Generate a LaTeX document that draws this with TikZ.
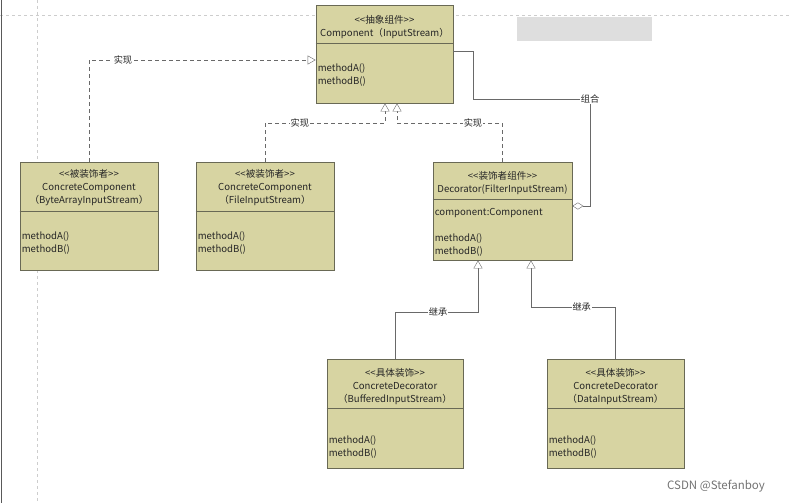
\documentclass[tikz,border=0pt]{standalone}
\usepackage{fontspec}
\setmainfont{Noto Sans CJK SC}[Ligatures=TeXOff]
\usetikzlibrary{arrows.meta,positioning,calc}

\definecolor{clsfill}{RGB}{215,212,162}
\definecolor{clsline}{RGB}{105,105,85}
\definecolor{linegray}{RGB}{105,105,105}
\definecolor{gridgray}{RGB}{205,205,205}

\tikzset{
  cls/.style={draw=clsline, fill=clsfill, line width=0.8pt, inner sep=0pt},
  txt/.style={font=\fontsize{9.6}{13}\selectfont, align=center, inner sep=0pt, text=black!85, yshift=-1.5pt},
  mtd/.style={txt, align=left, anchor=west},
  lbl/.style={font=\fontsize{9.2}{10}\selectfont, fill=white, inner sep=1pt, text=black!85},
  realize/.style={draw=linegray, dash pattern=on 4pt off 3pt,
    -{Triangle[open,length=8pt,width=9pt,fill=white]}},
  inherit/.style={draw=linegray, -{Triangle[open,length=8pt,width=9pt,fill=white]}},
  compose/.style={draw=linegray, -{Diamond[open,length=11pt,width=7pt,fill=white]}},
}

\begin{document}
\begin{tikzpicture}[x=1pt,y=-1pt]
    \useasboundingbox (0,0) rectangle (792,503);

    % page guides
    \draw[gridgray, dashed] (0,15) -- (792,15);
    \draw[gridgray, dashed] (37,0) -- (37,503);
    \draw[black!65, line width=1pt] (1,0) -- (1,503);
    \fill[black!13] (517,17) rectangle (652,41);

    % classes
    \node[cls, minimum width=137pt, minimum height=98pt]  (comp)    at (384.5,54)  {};
    \node[cls, minimum width=138pt, minimum height=108pt] (ccomp_1) at (89,216)    {};
    \node[cls, minimum width=138pt, minimum height=108pt] (ccomp_2) at (265,216)   {};
    \node[cls, minimum width=139pt, minimum height=98pt]  (deco)    at (502.5,211) {};
    \node[cls, minimum width=136pt, minimum height=109pt] (cdeco_1) at (395,413.5) {};
    \node[cls, minimum width=137pt, minimum height=109pt] (cdeco_2) at (615.5,413.5) {};

    \draw[clsline] (comp.west |- 0,43) -- (comp.east |- 0,43);
    \draw[clsline] (ccomp_1.west |- 0,211) -- (ccomp_1.east |- 0,211);
    \draw[clsline] (ccomp_2.west |- 0,211) -- (ccomp_2.east |- 0,211);
    \draw[clsline] (deco.west |- 0,199) -- (deco.east |- 0,199);
    \draw[clsline] (cdeco_1.west |- 0,408) -- (cdeco_1.east |- 0,408);
    \draw[clsline] (cdeco_2.west |- 0,408) -- (cdeco_2.east |- 0,408);

    \node[txt] (comp_h) at (comp |- 0,25.5) {<<抽象组件>>\\Component（InputStream）};
    \node[mtd] (comp_m) at ([xshift=2pt]comp.west |- 0,73.5) {methodA()\\methodB()};

    \node[txt] (ccomp_1_h) at (ccomp_1 |- 0,186.5) {<<被装饰者>>\\ConcreteComponent\\（ByteArrayInputStream）};
    \node[mtd] (ccomp_1_m) at ([xshift=2pt]ccomp_1.west |- 0,241.5) {methodA()\\methodB()};

    \node[txt] (ccomp_2_h) at (ccomp_2 |- 0,186.5) {<<被装饰者>>\\ConcreteComponent\\（FileInputStream）};
    \node[mtd] (ccomp_2_m) at ([xshift=2pt]ccomp_2.west |- 0,241.5) {methodA()\\methodB()};

    \node[txt] (deco_h) at (deco |- 0,182) {<<装饰者组件>>\\Decorator(FilterInputStream)};
    \node[mtd] (deco_m) at ([xshift=2pt]deco.west |- 0,230.5) {component:Component\\[13pt]methodA()\\methodB()};

    \node[txt] (cdeco_1_h) at (cdeco_1 |- 0,385) {<<具体装饰>>\\ConcreteDecorator\\（BufferedInputStream）};
    \node[mtd] (cdeco_1_m) at ([xshift=2pt]cdeco_1.west |- 0,445.5) {methodA()\\methodB()};

    \node[txt] (cdeco_2_h) at (cdeco_2 |- 0,385) {<<具体装饰>>\\ConcreteDecorator\\（DataInputStream）};
    \node[mtd] (cdeco_2_m) at ([xshift=2pt]cdeco_2.west |- 0,445.5) {methodA()\\methodB()};

    % bends
    \coordinate (j_0) at (89,60);
    \coordinate (j_1) at (385,123);
    \coordinate (j_2) at (397,123);
    \coordinate (k_1) at (473,99);
    \coordinate (k_2) at (590,206);
    \coordinate (m_1) at (478,312);
    \coordinate (m_2) at (531,307);

    % connectors
    \draw[realize] (ccomp_1.north) -- (j_0) -- node[lbl,pos=0.15] (l_1) {实现} (comp.west |- j_0);
    \draw[realize] (ccomp_2.north) |- node[lbl,pos=0.645] (l_2) {实现} (j_1) -- (j_1 |- comp.south);
    \draw[realize] (deco.north) |- node[lbl,pos=0.64] (l_3) {实现} (j_2) -- (j_2 |- comp.south);
    \draw[compose] (comp.east |- 0,51) -| (k_1) -| node[lbl,pos=0.5] (l_4) {组合} (k_2) -- (deco.east |- k_2);
    \draw[inherit] (cdeco_1.north) |- node[lbl,pos=0.76] (l_5) {继承} (m_1) -- (m_1 |- deco.south);
    \draw[inherit] (cdeco_2.north) |- node[lbl,pos=0.70] (l_6) {继承} (m_2) -- (m_2 |- deco.south);

    \node[font=\fontsize{11.5}{12}\selectfont, text=black!55] (mark) at (716,486) {CSDN @Stefanboy};
\end{tikzpicture}
\end{document}
